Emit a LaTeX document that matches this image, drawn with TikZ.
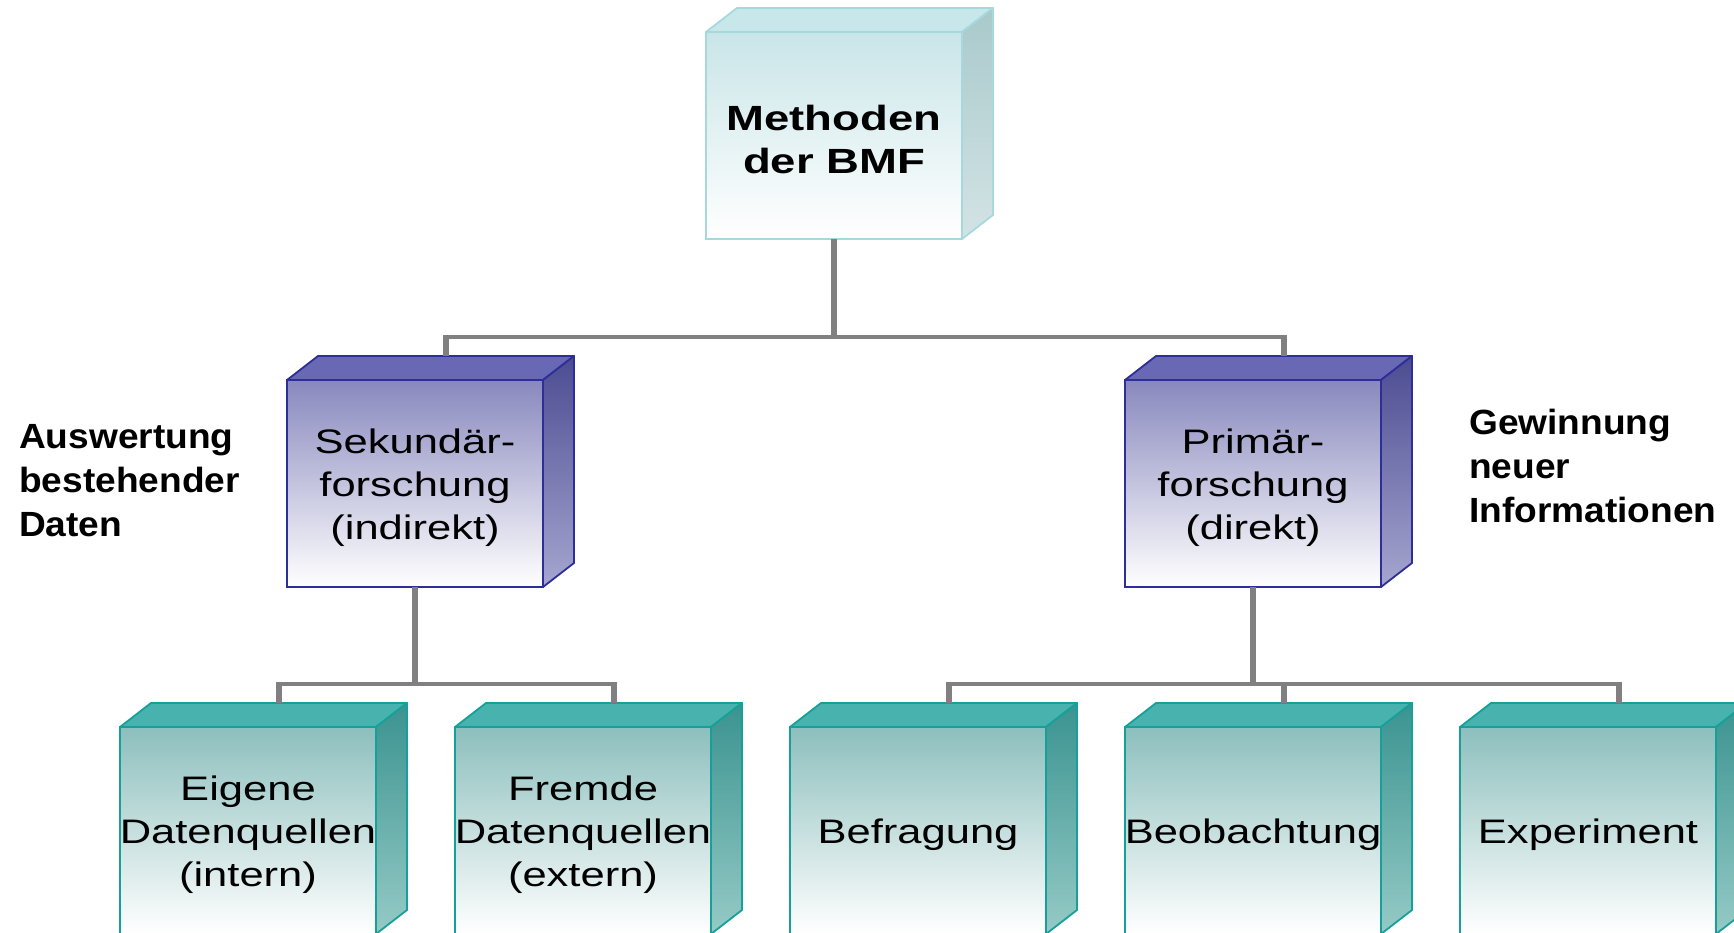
\documentclass[tikz,border=0pt]{standalone}
\usepackage{fontspec}
\setmainfont{Liberation Sans}
\newfontfamily\boxfont[FakeStretch=1.28]{Liberation Sans}
\newfontfamily\topfont[FakeStretch=1.3]{Liberation Sans}
\newfontfamily\sidefont[FakeStretch=1.06]{Liberation Sans}
\usetikzlibrary{calc}
\definecolor{cyFront}{HTML}{C9E5E8}
\definecolor{cyTop}{HTML}{C8E7EA}
\definecolor{cySideT}{HTML}{A9C9CB}
\definecolor{cySideB}{HTML}{D3E3E5}
\definecolor{cyLine}{HTML}{A6D9DD}
\definecolor{puFront}{HTML}{8888BE}
\definecolor{puTop}{HTML}{6868B4}
\definecolor{puSideT}{HTML}{4B4B92}
\definecolor{puSideB}{HTML}{A6A6D0}
\definecolor{puLine}{HTML}{2E2E99}
\definecolor{teFront}{HTML}{8CBFBD}
\definecolor{teTop}{HTML}{48B2AE}
\definecolor{teSideT}{HTML}{3A9390}
\definecolor{teSideB}{HTML}{96CAC6}
\definecolor{teLine}{HTML}{16A09A}
\definecolor{connGray}{HTML}{808080}
\tikzset{
  frontbase/.style={minimum width=256pt, minimum height=207pt, inner sep=0pt, outer sep=0pt,
    line width=1.8pt, bottom color=white},
  boxtext/.style={align=center, inner sep=0pt, font={\boxfont\fontsize{34}{43}\selectfont}},
  cy-front/.style={frontbase, draw=cyLine, top color=cyFront},
  cy-text/.style={align=center, inner sep=0pt, font={\bfseries\topfont\fontsize{35}{43}\selectfont}},
  cy-top/.style={draw=cyLine, fill=cyTop, line width=1.8pt, line join=round},
  cy-side/.style={draw=cyLine, top color=cySideT, bottom color=cySideB, line width=1.8pt, line join=round},
  pu-front/.style={frontbase, draw=puLine, top color=puFront},
  pu-text/.style={boxtext},
  pu-top/.style={draw=puLine, fill=puTop, line width=1.8pt, line join=round},
  pu-side/.style={draw=puLine, top color=puSideT, bottom color=puSideB, line width=1.8pt, line join=round},
  te-front/.style={frontbase, draw=teLine, top color=teFront},
  te-text/.style={boxtext},
  te-top/.style={draw=teLine, fill=teTop, line width=1.8pt, line join=round},
  te-side/.style={draw=teLine, top color=teSideT, bottom color=teSideB, line width=1.8pt, line join=round},
  hconn/.style={draw=connGray, line width=4.6pt, line cap=rect},
  vconn/.style={draw=connGray, line width=6pt},
  sidelabel/.style={anchor=west, align=left, inner sep=0pt, font={\bfseries\sidefont\fontsize{35}{44}\selectfont}}
}
\newcommand\cubebox[5]{%
  \node[#4-front, anchor=north west] (#1) at (#2,#3) {};
  \draw[#4-top] (#1.north west) -- ++(31,-24) -- ++(256,0) -- (#1.north east) -- cycle;
  \draw[#4-side] (#1.north east) -- ++(31,-24) -- ++(0,207) -- (#1.south east) -- cycle;
  \node[#4-text] (#1-label) at ($(#1.center)+(0,4)$) {#5};
  \coordinate (#1-t) at ($(#1.north)+(31,-24)$);
}
\begin{document}
\begin{tikzpicture}[x=1pt,y=-1pt]
\clip (0,0) rectangle (1734,933);
\fill[white] (0,0) rectangle (1734,933);
% junction levels
\coordinate (j1) at (834.5,337);
\coordinate (j2) at (415,684);
\coordinate (j3) at (1253,684);
% cubes
\cubebox{top}{706}{32}{cy}{Methoden\\der BMF}
\cubebox{sek}{287}{380}{pu}{Sekundär-\\forschung\\(indirekt)}
\cubebox{prim}{1125}{380}{pu}{Primär-\\forschung\\(direkt)}
\cubebox{eig}{120}{727}{te}{Eigene\\Datenquellen\\(intern)}
\cubebox{fre}{455}{727}{te}{Fremde\\Datenquellen\\(extern)}
\cubebox{bef}{790}{727}{te}{Befragung}
\cubebox{beo}{1125}{727}{te}{Beobachtung}
\cubebox{exp}{1460}{727}{te}{Experiment}
% connectors
\draw[hconn] (sek-t |- j1) -- (prim-t |- j1);
\draw[hconn] (eig-t |- j2) -- (fre-t |- j2);
\draw[hconn] (bef-t |- j3) -- (exp-t |- j3);
\draw[vconn] (top.south) -- ([yshift=-2.3pt]top.south |- j1);
\draw[vconn] (sek-t) -- ([yshift=2.3pt]sek-t |- j1);
\draw[vconn] (prim-t) -- ([yshift=2.3pt]prim-t |- j1);
\draw[vconn] (sek.south) -- ([yshift=-2.3pt]sek.south |- j2);
\draw[vconn] (eig-t) -- ([yshift=2.3pt]eig-t |- j2);
\draw[vconn] (fre-t) -- ([yshift=2.3pt]fre-t |- j2);
\draw[vconn] (prim.south) -- ([yshift=-2.3pt]prim.south |- j3);
\draw[vconn] (bef-t) -- ([yshift=2.3pt]bef-t |- j3);
\draw[vconn] (beo-t) -- ([yshift=2.3pt]beo-t |- j3);
\draw[vconn] (exp-t) -- ([yshift=2.3pt]exp-t |- j3);
% side labels
\node[sidelabel] (lab1) at (19,481) {Auswertung\\bestehender\\Daten};
\node[sidelabel] (lab2) at (1469,466) {Gewinnung\\neuer\\Informationen};
\end{tikzpicture}
\end{document}
